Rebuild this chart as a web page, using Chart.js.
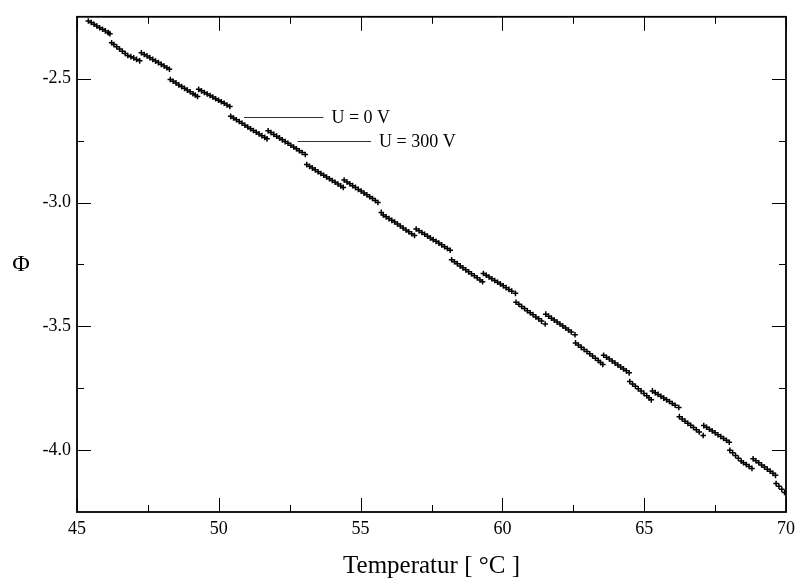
<!DOCTYPE html>
<html>
<head>
<meta charset="utf-8">
<script src="https://cdn.jsdelivr.net/npm/chart.js@4/dist/chart.umd.min.js"></script>
<style>
  body { margin: 0; background: #fff; }
  #wrap { width: 801px; height: 585px; }
</style>
</head>
<body>
<div id="wrap"><canvas id="phiChart" width="801" height="585"></canvas></div>
<script>
// U = 0 V runs (the lower steps)
const tempU0 = [
  46.22, 46.30, 46.40, 46.50, 46.60, 46.70, 46.79, 46.90, 47.00, 47.10, 47.21,
  48.29, 48.39, 48.49, 48.59, 48.69, 48.79, 48.89, 48.99, 49.09, 49.17, 49.25,
  50.42, 50.52, 50.62, 50.72, 50.82, 50.92, 51.02, 51.12, 51.22, 51.32, 51.42, 51.52, 51.62, 51.70,
  53.10, 53.20, 53.30, 53.40, 53.50, 53.60, 53.70, 53.80, 53.90, 54.00, 54.10, 54.20, 54.30, 54.39,
  55.73, 55.80, 55.90, 56.00, 56.10, 56.20, 56.30, 56.40, 56.50, 56.60, 56.70, 56.80, 56.90,
  58.21, 58.31, 58.41, 58.51, 58.61, 58.71, 58.81, 58.91, 59.01, 59.11, 59.21, 59.30,
  60.48, 60.58, 60.68, 60.78, 60.88, 60.98, 61.08, 61.18, 61.28, 61.38, 61.51,
  62.58, 62.68, 62.78, 62.88, 62.98, 63.08, 63.18, 63.28, 63.38, 63.46, 63.54,
  64.49, 64.59, 64.69, 64.79, 64.89, 64.99, 65.09, 65.17, 65.25,
  66.24, 66.34, 66.44, 66.54, 66.64, 66.74, 66.84, 66.94, 67.08,
  68.02, 68.12, 68.22, 68.32, 68.42, 68.50, 68.60, 68.70, 68.80,
  69.65, 69.75, 69.85, 69.95
];
const phiU0 = [
  -2.355, -2.362, -2.371, -2.380, -2.389, -2.398, -2.406, -2.411, -2.416, -2.422, -2.428,
  -2.503, -2.510, -2.517, -2.525, -2.532, -2.539, -2.546, -2.553, -2.561, -2.566, -2.572,
  -2.652, -2.659, -2.666, -2.673, -2.680, -2.688, -2.695, -2.702, -2.709, -2.716, -2.723, -2.730, -2.737, -2.743,
  -2.847, -2.854, -2.861, -2.868, -2.876, -2.883, -2.890, -2.897, -2.904, -2.911, -2.918, -2.925, -2.933, -2.939,
  -3.040, -3.050, -3.058, -3.065, -3.072, -3.079, -3.087, -3.095, -3.103, -3.111, -3.118, -3.126, -3.133,
  -3.231, -3.239, -3.247, -3.256, -3.264, -3.272, -3.280, -3.288, -3.296, -3.304, -3.313, -3.320,
  -3.403, -3.411, -3.420, -3.428, -3.437, -3.445, -3.453, -3.462, -3.470, -3.479, -3.491,
  -3.567, -3.576, -3.585, -3.594, -3.602, -3.611, -3.620, -3.629, -3.638, -3.646, -3.654,
  -3.723, -3.733, -3.742, -3.752, -3.761, -3.771, -3.780, -3.789, -3.797,
  -3.865, -3.874, -3.883, -3.892, -3.900, -3.909, -3.918, -3.927, -3.941,
  -4.001, -4.011, -4.022, -4.033, -4.044, -4.051, -4.058, -4.066, -4.074,
  -4.135, -4.146, -4.158, -4.171
];

// U = 300 V runs (the upper steps)
const tempU300 = [
  45.40, 45.50, 45.60, 45.70, 45.80, 45.90, 46.00, 46.10, 46.16,
  47.27, 47.37, 47.47, 47.57, 47.67, 47.77, 47.87, 47.97, 48.07, 48.17, 48.26,
  49.29, 49.39, 49.49, 49.59, 49.69, 49.79, 49.89, 49.99, 50.09, 50.19, 50.29, 50.39,
  51.74, 51.84, 51.94, 52.04, 52.14, 52.24, 52.34, 52.44, 52.54, 52.64, 52.74, 52.84, 52.94, 53.05,
  54.42, 54.52, 54.62, 54.72, 54.82, 54.92, 55.02, 55.12, 55.22, 55.32, 55.42, 55.52, 55.61,
  56.96, 57.06, 57.16, 57.26, 57.36, 57.46, 57.56, 57.66, 57.76, 57.86, 57.96, 58.06, 58.16,
  59.33, 59.43, 59.53, 59.63, 59.73, 59.83, 59.93, 60.03, 60.13, 60.23, 60.33, 60.46,
  61.53, 61.63, 61.73, 61.83, 61.93, 62.03, 62.13, 62.23, 62.33, 62.43, 62.56,
  63.57, 63.67, 63.77, 63.87, 63.97, 64.07, 64.17, 64.27, 64.37, 64.47,
  65.29, 65.39, 65.49, 65.59, 65.69, 65.79, 65.89, 65.99, 66.09, 66.22,
  67.10, 67.20, 67.30, 67.40, 67.50, 67.60, 67.70, 67.80, 67.90, 68.00,
  68.84, 68.94, 69.04, 69.14, 69.24, 69.34, 69.44, 69.54, 69.63
];
const phiU300 = [
  -2.267, -2.273, -2.280, -2.287, -2.294, -2.300, -2.307, -2.314, -2.318,
  -2.395, -2.402, -2.408, -2.415, -2.422, -2.429, -2.435, -2.442, -2.449, -2.456, -2.462,
  -2.543, -2.549, -2.556, -2.562, -2.568, -2.574, -2.581, -2.587, -2.593, -2.599, -2.606, -2.612,
  -2.710, -2.717, -2.725, -2.732, -2.739, -2.747, -2.754, -2.761, -2.769, -2.776, -2.783, -2.791, -2.798, -2.806,
  -2.909, -2.917, -2.924, -2.932, -2.939, -2.947, -2.954, -2.962, -2.969, -2.977, -2.984, -2.992, -3.000,
  -3.107, -3.114, -3.121, -3.128, -3.136, -3.143, -3.150, -3.157, -3.164, -3.171, -3.179, -3.186, -3.193,
  -3.287, -3.294, -3.301, -3.308, -3.315, -3.322, -3.329, -3.336, -3.344, -3.351, -3.358, -3.367,
  -3.451, -3.459, -3.467, -3.475, -3.483, -3.491, -3.499, -3.507, -3.515, -3.523, -3.534,
  -3.617, -3.625, -3.632, -3.640, -3.648, -3.656, -3.664, -3.672, -3.680, -3.688,
  -3.761, -3.768, -3.775, -3.783, -3.790, -3.797, -3.804, -3.812, -3.819, -3.828,
  -3.901, -3.908, -3.916, -3.923, -3.930, -3.938, -3.945, -3.953, -3.960, -3.968,
  -4.035, -4.043, -4.051, -4.060, -4.068, -4.077, -4.085, -4.094, -4.102
];

// axis ticks
const xTicks = [45, 50, 55, 60, 65, 70];
const xMinorTicks = [47.5, 52.5, 57.5, 62.5, 67.5];
const yTicks = [-2.5, -3.0, -3.5, -4.0];
const yMinorTicks = [-2.75, -3.25, -3.75];

// labels with leader lines: [text, line start T, line end T, Φ]
const notes = [
  ["U = 0 V", 50.89, 53.69, -2.655],
  ["U = 300 V", 52.78, 55.37, -2.751]
];

const serif = "'Liberation Serif', 'Times New Roman', serif";

function zip(xs, ys) {
  return xs.map((x, i) => ({ x: x, y: ys[i] }));
}

const framePlugin = {
  id: "frame",
  afterDraw(chart) {
    const ctx = chart.ctx;
    const area = chart.chartArea;
    const xs = chart.scales.x;
    const ys = chart.scales.y;

    ctx.save();
    ctx.strokeStyle = "#000";

    // ticks pointing inward on all four sides
    ctx.lineWidth = 1;
    ctx.beginPath();
    const xt = (vals, len) => vals.forEach((v) => {
      const px = Math.round(xs.getPixelForValue(v)) + 0.5;
      ctx.moveTo(px, area.bottom); ctx.lineTo(px, area.bottom - len);
      ctx.moveTo(px, area.top); ctx.lineTo(px, area.top + len);
    });
    const yt = (vals, len) => vals.forEach((v) => {
      const py = Math.round(ys.getPixelForValue(v)) + 0.5;
      ctx.moveTo(area.left, py); ctx.lineTo(area.left + len, py);
      ctx.moveTo(area.right, py); ctx.lineTo(area.right - len, py);
    });
    xt(xTicks, 14); xt(xMinorTicks, 7);
    yt(yTicks, 14); yt(yMinorTicks, 7);
    ctx.stroke();

    // box
    ctx.lineWidth = 1.8;
    ctx.strokeRect(area.left, area.top, area.right - area.left, area.bottom - area.top);

    // leader lines and texts
    ctx.lineWidth = 1;
    ctx.strokeStyle = "#333";
    ctx.fillStyle = "#000";
    ctx.font = "18px " + serif;
    ctx.textBaseline = "middle";
    ctx.textAlign = "left";
    notes.forEach(([text, t0, t1, phi]) => {
      const y = Math.round(ys.getPixelForValue(phi)) + 0.5;
      const x0 = xs.getPixelForValue(t0);
      const x1 = xs.getPixelForValue(t1);
      ctx.beginPath();
      ctx.moveTo(x0, y); ctx.lineTo(x1, y);
      ctx.stroke();
      ctx.fillText(text, x1 + 8, y + 1);
    });

    // upright Φ label for the y axis
    ctx.font = "24px " + serif;
    ctx.textAlign = "center";
    ctx.fillText("Φ", 21, (area.top + area.bottom) / 2);
    ctx.restore();
  }
};

const markerStyle = {
  showLine: false,
  pointStyle: "cross",
  pointRadius: 2.8,
  pointHoverRadius: 2.8,
  pointBorderWidth: 1.5,
  borderColor: "#000",
  backgroundColor: "#000"
};

new Chart(document.getElementById("phiChart"), {
  type: "scatter",
  data: {
    datasets: [
      Object.assign({ label: "U = 0 V", data: zip(tempU0, phiU0) }, markerStyle),
      Object.assign({ label: "U = 300 V", data: zip(tempU300, phiU300) }, markerStyle)
    ]
  },
  options: {
    responsive: false,
    animation: false,
    layout: { padding: { top: 13, right: 11, bottom: 0, left: 0 } },
    plugins: {
      legend: { display: false },
      tooltip: { enabled: false }
    },
    scales: {
      x: {
        type: "linear",
        min: 45,
        max: 70,
        grid: { display: false, drawTicks: false, tickLength: 0 },
        border: { display: false },
        afterBuildTicks: (scale) => { scale.ticks = xTicks.map((v) => ({ value: v })); },
        afterFit: (scale) => { scale.height = 73; },
        ticks: {
          padding: 6,
          color: "#000",
          font: { family: serif, size: 18 },
          callback: (v) => String(v)
        },
        title: {
          display: true,
          text: "Temperatur [ °C ]",
          color: "#000",
          font: { family: serif, size: 25 },
          padding: { top: 0, bottom: 4 }
        }
      },
      y: {
        type: "linear",
        min: -4.25,
        max: -2.25,
        grid: { display: false, drawTicks: false, tickLength: 0 },
        border: { display: false },
        afterBuildTicks: (scale) => { scale.ticks = yTicks.map((v) => ({ value: v })); },
        afterFit: (scale) => { scale.width = 77; },
        ticks: {
          padding: 6,
          color: "#000",
          font: { family: serif, size: 18 },
          callback: (v) => v.toFixed(1)
        }
      }
    }
  },
  plugins: [framePlugin]
});
</script>
</body>
</html>
